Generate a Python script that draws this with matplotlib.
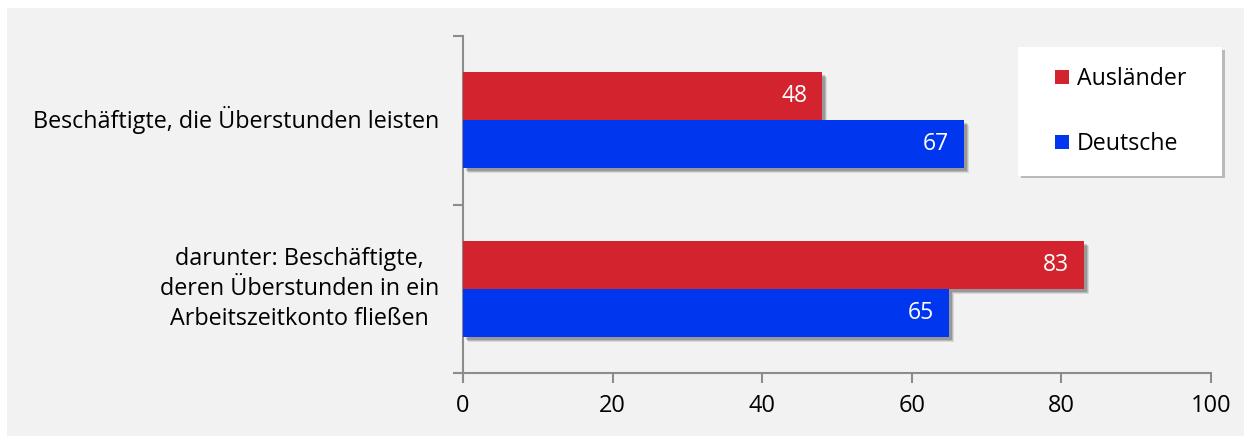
import matplotlib
matplotlib.use("Agg")
import matplotlib.pyplot as plt
from matplotlib.transforms import offset_copy
from matplotlib.lines import Line2D
from matplotlib.patches import Rectangle
import numpy as np

categories = ["Beschäftigte, die Überstunden leisten",
              "darunter: Beschäftigte,\nderen Überstunden in ein\nArbeitszeitkonto fließen"]
series_names = ["Ausländer", "Deutsche"]
auslaender = [48, 83]
deutsche = [67, 65]
x_ticks = [0, 20, 40, 60, 80, 100]

red = "#D2232E"
blue = "#0037EE"
bg = "#F2F2F2"
axis_grey = "#8C8C8C"

plt.rcParams["font.family"] = ["Open Sans", "DejaVu Sans"]

W, H = 1244, 436
fig = plt.figure(figsize=(W / 100, H / 100), dpi=100)
fig.patch.set_facecolor("white")
fig.add_artist(Rectangle((7 / W, 0), 1, 1 - 8 / H, transform=fig.transFigure,
                         facecolor=bg, edgecolor="none", zorder=-10))

ax = fig.add_axes([463 / W, 1 - 373 / H, (1211 - 463) / W, (373 - 36) / H])
ax.set_facecolor("none")

y = np.arange(len(categories))
h = 0.284

# soft drop shadows behind the bars
for dx, a in [(5, 0.10), (4, 0.14), (3, 0.18)]:
    tr = offset_copy(ax.transData, fig=fig, x=dx, y=-dx, units="dots")
    ax.barh(y - h / 2, auslaender, height=h, color="black", alpha=a, transform=tr, zorder=1)
    ax.barh(y + h / 2, deutsche, height=h, color="black", alpha=a, transform=tr, zorder=1)

b1 = ax.barh(y - h / 2, auslaender, height=h, color=red, zorder=3, label=series_names[0])
b2 = ax.barh(y + h / 2, deutsche, height=h, color=blue, zorder=3, label=series_names[1])

for bars, vals in ((b1, auslaender), (b2, deutsche)):
    for rect, v in zip(bars, vals):
        ax.annotate(f"{v}", xy=(v, rect.get_y() + rect.get_height() / 2),
                    xytext=(-15, 0), textcoords="offset pixels",
                    ha="right", va="center", color="white", fontsize=16.5, zorder=4)

ax.set_xlim(0, 100)
ax.set_ylim(len(categories) - 0.5, -0.5)

ax.set_xticks(x_ticks)
ax.set_xticklabels([str(t) for t in x_ticks], fontsize=17)
ax.set_yticks(np.arange(-0.5, len(categories)), labels=[""] * (len(categories) + 1))
ax.set_yticks(y, labels=categories, minor=True)
ax.tick_params(axis="y", which="minor", length=0, pad=17, labelsize=16.8)
ax.tick_params(axis="y", which="major", length=7, width=1.5, color=axis_grey)
ax.tick_params(axis="x", length=7, width=1.5, color=axis_grey, pad=8)
for lab in ax.get_yticklabels(minor=True):
    lab.set_multialignment("center")
    lab.set_linespacing(1.33)
    lab.set_verticalalignment("center")

for s in ("top", "right"):
    ax.spines[s].set_visible(False)
for s in ("left", "bottom"):
    ax.spines[s].set_color(axis_grey)
    ax.spines[s].set_linewidth(1.5)

handles = [Line2D([], [], marker="s", linestyle="none", markersize=10.5, color=red,
                  markeredgewidth=0),
           Line2D([], [], marker="s", linestyle="none", markersize=10.5, color=blue,
                  markeredgewidth=0)]
x0 = (1018 - 463) / 748
x1 = (1222 - 463) / 748
yt = (373 - 47) / 337
leg = ax.legend(handles, series_names, loc="upper left",
                bbox_to_anchor=(x0, yt, x1 - x0, 0.0), mode="expand",
                borderaxespad=0, fontsize=16.7, frameon=True, fancybox=False,
                facecolor="white", edgecolor="none", framealpha=1,
                shadow={"color": "0.55", "alpha": 0.55},
                borderpad=0.86, labelspacing=1.76, handlelength=2.09,
                handletextpad=-0.4)
leg.get_frame().set_linewidth(0)

fig.savefig("out.png", dpi=100, facecolor=fig.get_facecolor())
